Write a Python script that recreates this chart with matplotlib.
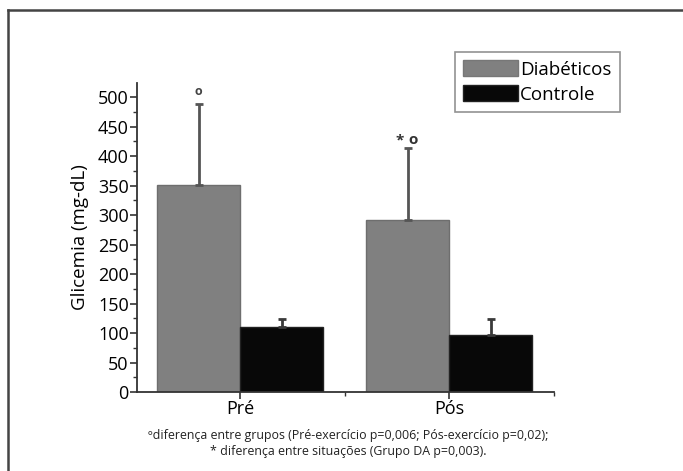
import numpy as np
import matplotlib.pyplot as plt
from matplotlib.patches import Patch
from matplotlib.lines import Line2D
from matplotlib.ticker import MultipleLocator, FixedLocator

plt.rcParams['font.family'] = ['Open Sans', 'DejaVu Sans']

situacoes = ['Pré', 'Pós']
grupos = ['Diabéticos', 'Controle']
diabeticos = [351, 292]
diabeticos_dp = [138, 121]
controle = [111, 97]
controle_dp = [13, 27]

cor_diab = '#808080'
cor_ctrl = '#080808'

fig = plt.figure(figsize=(6.83, 4.71), dpi=100)
ax = fig.add_axes([0.2006, 0.1677, 0.6105, 0.6561])

x = np.arange(len(situacoes))
w = 0.397
ax.bar(x - w / 2, diabeticos, w, color=cor_diab, edgecolor='#6e6e6e', linewidth=1.0)
ax.bar(x + w / 2, controle, w, color=cor_ctrl, edgecolor='#222222', linewidth=1.0)
ax.errorbar(x - w / 2, diabeticos, yerr=[np.zeros(2), diabeticos_dp], fmt='none',
            ecolor='#555555', elinewidth=2, capsize=3, capthick=2)
ax.errorbar(x + w / 2, controle, yerr=[np.zeros(2), controle_dp], fmt='none',
            ecolor='#3a3a3a', elinewidth=2, capsize=3, capthick=2)

# marcas de significancia
ax.text(x[0] - w / 2, diabeticos[0] + diabeticos_dp[0] + 10, 'o', ha='center', va='bottom',
        fontsize=9, fontweight='bold', color='#444444')
ax.text(x[1] - w / 2 - 0.04, diabeticos[1] + diabeticos_dp[1] + 2, '*', ha='center', va='bottom',
        fontsize=11, fontweight='bold', color='#333333')
ax.text(x[1] - w / 2 + 0.025, diabeticos[1] + diabeticos_dp[1] + 2, 'o', ha='center', va='bottom',
        fontsize=11, fontweight='bold', color='#333333')

ax.set_xlim(-0.493, 1.502)
ax.set_ylim(0, 524)
ax.set_xticks(x)
ax.set_xticklabels(situacoes, fontsize=13)
ax.xaxis.set_minor_locator(FixedLocator([0.5, 1.5]))
ax.yaxis.set_major_locator(MultipleLocator(50))
ax.yaxis.set_minor_locator(MultipleLocator(25))
ax.tick_params(axis='y', which='major', length=5, width=1.2, labelsize=13, pad=1, color='#333333')
ax.tick_params(axis='y', which='minor', length=3, width=1, color='#333333')
ax.tick_params(axis='x', which='major', length=5, width=1.2, labelsize=13, pad=1, color='#333333')
ax.tick_params(axis='x', which='minor', length=3, width=1, color='#333333')
for s in ['top', 'right']:
    ax.spines[s].set_visible(False)
for s in ['left', 'bottom']:
    ax.spines[s].set_linewidth(1.3)
    ax.spines[s].set_color('#333333')
ax.set_ylabel('Glicemia (mg-dL)', fontsize=13.5, labelpad=6)

handles = [Patch(facecolor=cor_diab, edgecolor='#777777'), Patch(facecolor=cor_ctrl, edgecolor='#222222')]
leg = fig.legend(handles, grupos, loc='upper left', bbox_to_anchor=(455 / 683, 1 - 52 / 471),
                 fontsize=13.5, frameon=True, fancybox=False, edgecolor='#777777',
                 handlelength=2.9, handleheight=0.9, handletextpad=0.12, borderpad=0.45,
                 labelspacing=0.35, borderaxespad=0)
leg.get_frame().set_linewidth(1.2)

fig.text(0.51, 1 - 436 / 471, 'ºdiferença entre grupos (Pré-exercício p=0,006; Pós-exercício p=0,02);',
         ha='center', va='center', fontsize=8.9, color='#222222')
fig.text(0.51, 1 - 451 / 471, '* diferença entre situações (Grupo DA p=0,003).',
         ha='center', va='center', fontsize=8.9, color='#222222')

# moldura externa (so esquerda e topo aparecem)
fx, fy = 7.5 / 683, 1 - 9.5 / 471
fig.add_artist(Line2D([fx, fx], [-0.05, fy], transform=fig.transFigure, color='#444444', linewidth=1.8))
fig.add_artist(Line2D([fx, 1.05], [fy, fy], transform=fig.transFigure, color='#444444', linewidth=1.8))

fig.savefig('out.png', dpi=100)
